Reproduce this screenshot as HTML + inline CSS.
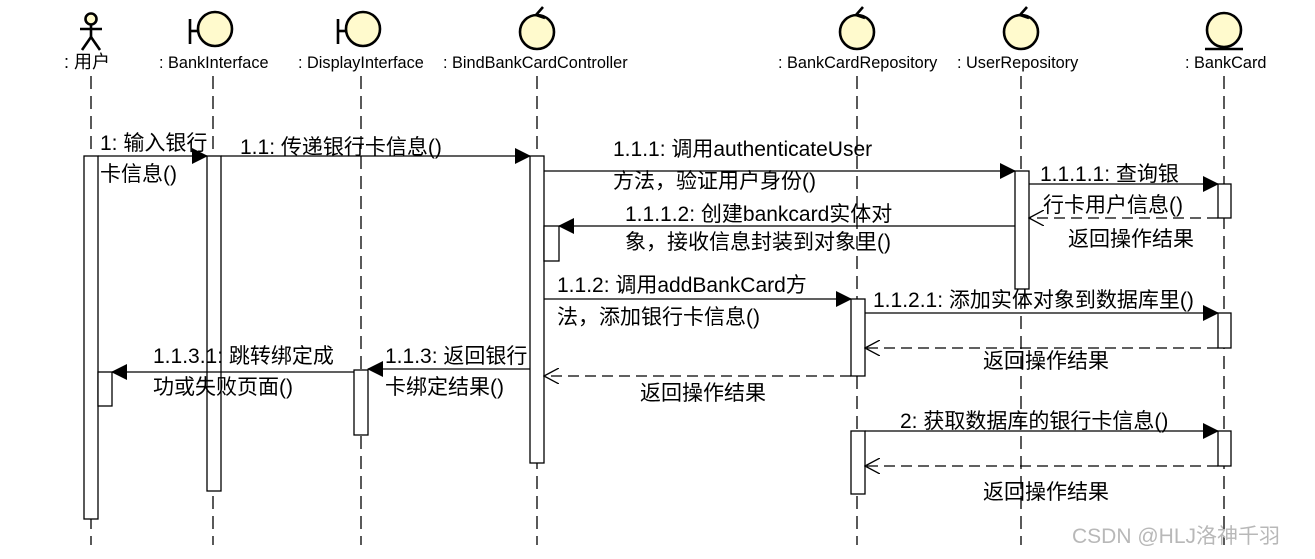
<!DOCTYPE html>
<html><head><meta charset="utf-8"><style>
html,body{margin:0;padding:0;background:#fff;}
svg{display:block;}
text{font-family:"Liberation Sans","Noto Sans CJK SC",sans-serif;fill:#000;}
.h{font-size:16.3px;}
.m{font-size:21px;}
</style></head><body>
<svg width="1315" height="559" viewBox="0 0 1315 559" xmlns="http://www.w3.org/2000/svg">
<defs>
<marker id="f" markerWidth="16" markerHeight="16" refX="15" refY="8" orient="auto" markerUnits="userSpaceOnUse"><path d="M0,0 L16,8 L0,16 z" fill="#000"/></marker>
<marker id="o" markerWidth="16" markerHeight="16" refX="15" refY="8" orient="auto" markerUnits="userSpaceOnUse"><path d="M0,0 L15,8 L0,16" fill="none" stroke="#000" stroke-width="1.3"/></marker>
</defs>
<g stroke="#000" stroke-width="1.3" stroke-dasharray="13,7" fill="none">
<line x1="91" y1="76" x2="91" y2="545"/>
<line x1="213" y1="76" x2="213" y2="545"/>
<line x1="361" y1="76" x2="361" y2="545"/>
<line x1="537" y1="76" x2="537" y2="545"/>
<line x1="857" y1="76" x2="857" y2="545"/>
<line x1="1021" y1="76" x2="1021" y2="545"/>
<line x1="1224" y1="76" x2="1224" y2="545"/>
</g>
<g stroke="#000" stroke-width="2.6" fill="#fffacd">
<circle cx="91" cy="19" r="5.5"/>
<line x1="91" y1="24" x2="91" y2="37"/><line x1="80" y1="29" x2="102" y2="29"/>
<line x1="91" y1="37" x2="82" y2="50"/><line x1="91" y1="37" x2="100" y2="50"/>
<circle cx="215" cy="29" r="17"/><line x1="190" y1="19" x2="190" y2="44"/><line x1="190" y1="31" x2="198" y2="31"/>
<circle cx="363" cy="29" r="17"/><line x1="338" y1="19" x2="338" y2="44"/><line x1="338" y1="31" x2="346" y2="31"/>
<circle cx="537" cy="32" r="17"/><path d="M543,7 L536,15 L545,18" fill="none"/>
<circle cx="857" cy="32" r="17"/><path d="M863,7 L856,15 L865,18" fill="none"/>
<circle cx="1021" cy="32" r="17"/><path d="M1027,7 L1020,15 L1029,18" fill="none"/>
<circle cx="1224" cy="30" r="17"/><line x1="1205" y1="49" x2="1243" y2="49"/>
</g>
<text class="h" x="64" y="68" style="font-size:18px">: 用户</text>
<text class="h" x="159" y="68">: BankInterface</text>
<text class="h" x="298" y="68">: DisplayInterface</text>
<text class="h" x="443" y="68">: BindBankCardController</text>
<text class="h" x="778" y="68">: BankCardRepository</text>
<text class="h" x="957" y="68">: UserRepository</text>
<text class="h" x="1185" y="68">: BankCard</text>
<g stroke="#000" stroke-width="1.3" fill="#fff">
<rect x="84" y="156" width="14" height="363"/>
<rect x="98" y="372" width="14" height="34"/>
<rect x="207" y="156" width="14" height="335"/>
<rect x="354" y="370" width="14" height="65"/>
<rect x="530" y="156" width="14" height="307"/>
<rect x="544" y="226" width="15" height="35"/>
<rect x="1015" y="171" width="14" height="118"/>
<rect x="1218" y="184" width="13" height="34"/>
<rect x="851" y="299" width="14" height="77"/>
<rect x="1218" y="313" width="13" height="35"/>
<rect x="851" y="431" width="14" height="63"/>
<rect x="1218" y="431" width="13" height="35"/>
</g>
<g stroke="#000" stroke-width="1.3" fill="none">
<line x1="98" y1="156" x2="207" y2="156" marker-end="url(#f)"/>
<line x1="221" y1="156" x2="530" y2="156" marker-end="url(#f)"/>
<line x1="544" y1="171" x2="1015" y2="171" marker-end="url(#f)"/>
<line x1="1029" y1="184" x2="1218" y2="184" marker-end="url(#f)"/>
<line x1="1218" y1="218" x2="1029" y2="218" stroke-dasharray="11,6" marker-end="url(#o)"/>
<line x1="1015" y1="226" x2="559" y2="226" marker-end="url(#f)"/>
<line x1="544" y1="299" x2="851" y2="299" marker-end="url(#f)"/>
<line x1="865" y1="313" x2="1218" y2="313" marker-end="url(#f)"/>
<line x1="1218" y1="348" x2="865" y2="348" stroke-dasharray="11,6" marker-end="url(#o)"/>
<line x1="851" y1="376" x2="544" y2="376" stroke-dasharray="11,6" marker-end="url(#o)"/>
<line x1="530" y1="369" x2="368" y2="369" marker-end="url(#f)"/>
<line x1="354" y1="372" x2="112" y2="372" marker-end="url(#f)"/>
<line x1="865" y1="431" x2="1218" y2="431" marker-end="url(#f)"/>
<line x1="1218" y1="466" x2="865" y2="466" stroke-dasharray="11,6" marker-end="url(#o)"/>
</g>
<text class="m" x="100" y="150">1: 输入银行</text>
<text class="m" x="100" y="181">卡信息()</text>
<text class="m" x="240" y="154">1.1: 传递银行卡信息()</text>
<text class="m" x="613" y="156">1.1.1: 调用authenticateUser</text>
<text class="m" x="613" y="188">方法，验证用户身份()</text>
<text class="m" x="1040" y="181">1.1.1.1: 查询银</text>
<text class="m" x="1043" y="212">行卡用户信息()</text>
<text class="m" x="1068" y="246">返回操作结果</text>
<text class="m" x="625" y="221">1.1.1.2: 创建bankcard实体对</text>
<text class="m" x="625" y="249">象，接收信息封装到对象里()</text>
<text class="m" x="557" y="292">1.1.2: 调用addBankCard方</text>
<text class="m" x="557" y="324">法，添加银行卡信息()</text>
<text class="m" x="873" y="307">1.1.2.1: 添加实体对象到数据库里()</text>
<text class="m" x="983" y="368">返回操作结果</text>
<text class="m" x="640" y="400">返回操作结果</text>
<text class="m" x="385" y="363">1.1.3: 返回银行</text>
<text class="m" x="385" y="394">卡绑定结果()</text>
<text class="m" x="153" y="363">1.1.3.1: 跳转绑定成</text>
<text class="m" x="153" y="394">功或失败页面()</text>
<text class="m" x="900" y="428">2: 获取数据库的银行卡信息()</text>
<text class="m" x="983" y="499">返回操作结果</text>
<text x="1072" y="543" style="font-size:21px;fill:#b8b8b8">CSDN @HLJ洛神千羽</text>
</svg>
</body></html>
